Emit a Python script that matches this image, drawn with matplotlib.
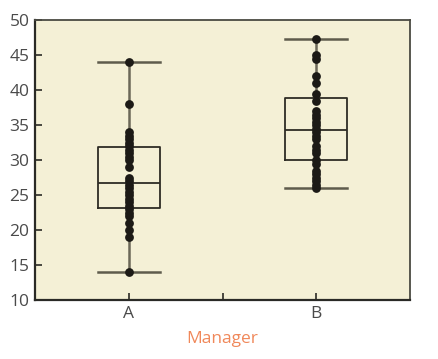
import matplotlib
matplotlib.use("Agg")
import matplotlib.pyplot as plt
import numpy as np

categories = ["A", "B"]
values_a = [14, 19, 20, 21, 22, 22.5, 23, 23.5, 24, 24.5, 25, 25.5, 26, 26.5,
            27, 27.5, 29, 30, 30.5, 31, 31.5, 32, 32.5, 33, 33.5, 34, 38, 44]
values_b = [26, 26.5, 27, 27.5, 28, 28.5, 29.5, 30, 31, 31.5, 32, 33, 33.5, 34,
            34.5, 35, 35.5, 36, 36.5, 37, 38.5, 39.5, 41, 42, 44.5, 45, 47.3]
# box statistics
q1 = [23.2, 30.0]
med = [26.7, 34.3]
q3 = [31.9, 38.9]
whislo = [14.0, 26.0]
whishi = [44.0, 47.3]
yticks = [10, 15, 20, 25, 30, 35, 40, 45, 50]
xlabel = "Manager"

bg = "#f4f0d6"
fig = plt.figure(figsize=(4.38, 3.59), dpi=100)
ax = fig.add_axes([35/438, 1-300/359, (410-35)/438, (300-20)/359])
ax.set_facecolor(bg)

stats = []
for i in range(2):
    stats.append(dict(q1=q1[i], med=med[i], q3=q3[i], whislo=whislo[i],
                      whishi=whishi[i], fliers=[], label=categories[i]))
pos = [1, 2]
ax.bxp(stats, positions=pos, widths=0.33, showfliers=False,
       boxprops=dict(color="#2e2c25", linewidth=1.3),
       medianprops=dict(color="#2e2c25", linewidth=1.3),
       whiskerprops=dict(color="#6b6858", linewidth=1.8),
       capprops=dict(color="#5e5b4c", linewidth=1.8),
       capwidths=0.33, zorder=2)

for p, vals in zip(pos, [values_a, values_b]):
    ax.scatter(np.full(len(vals), p), vals, s=40, color="#1c1a16",
               zorder=3, linewidths=0)

ax.set_xlim(0.5, 2.5)
ax.set_ylim(10, 50)
ax.set_yticks(yticks)
ax.set_xticks([1, 1.5, 2])
ax.set_xticklabels(["A", "", "B"])
ax.tick_params(direction="in", length=5, width=1.3, color="#3a3a34",
               labelsize=12.5, labelcolor="#4a4a4a")
ax.tick_params(axis="y", pad=4)
ax.tick_params(axis="x", pad=4)
for t in ax.get_xticklabels() + ax.get_yticklabels():
    t.set_fontfamily("Open Sans")
for s in ax.spines.values():
    s.set_color("#4a4a42")
    s.set_linewidth(1.3)
ax.spines["left"].set_color("#2a2a26")
ax.spines["bottom"].set_color("#2a2a26")
ax.spines["left"].set_linewidth(1.6)
ax.spines["bottom"].set_linewidth(1.6)

ax.set_xlabel(xlabel, fontsize=12.5, color="#f0885a", family="Open Sans", labelpad=7)

fig.savefig("out.png", dpi=100, facecolor="white")
